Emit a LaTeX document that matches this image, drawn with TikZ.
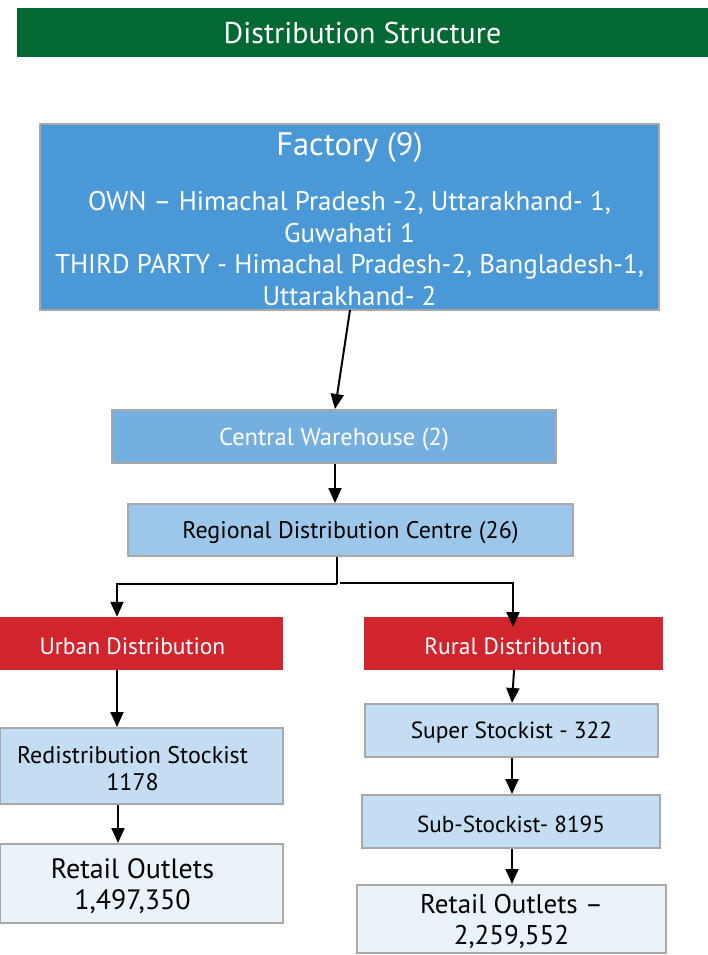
\documentclass[tikz,border=0pt]{standalone}
\usepackage{fontspec}
\setmainfont{PT Sans}
\usetikzlibrary{arrows.meta}
\definecolor{titlegreen}{HTML}{026935}
\definecolor{factblue}{HTML}{4A98D6}
\definecolor{cwblue}{HTML}{75AFE0}
\definecolor{rdcblue}{HTML}{9DC7EA}
\definecolor{stockblue}{HTML}{C5DDF2}
\definecolor{paleblue}{HTML}{EAF2FA}
\definecolor{urbred}{HTML}{D0252D}
\definecolor{bordergray}{HTML}{A8A8A8}
\tikzset{
  box/.style={draw=bordergray, line width=2pt, inner sep=0pt, align=center},
  lbl/.style={inner sep=0pt, align=center, yshift=-2.5pt},
  leftlbl/.style={lbl, xshift=-9pt},
  redbox/.style={fill=urbred, inner sep=0pt},
  redlbl/.style={lbl, text=white, font=\fontsize{23.5}{27}\selectfont},
  conn/.style={line width=2pt, -{Triangle[length=15pt,width=13pt]}},
  plain/.style={line width=2pt}
}
\begin{document}
\begin{tikzpicture}[x=1pt,y=-1pt]
\useasboundingbox (0,0) rectangle (708,955);
% title
\node[fill=titlegreen, minimum width=691pt, minimum height=49pt, inner sep=0pt] (title) at (362.5,32.5) {};
\node[lbl, yshift=1.5pt, text=white, font=\fontsize{30}{34}\selectfont] (titletext) at (title.center) {Distribution Structure};
% factory
\node[box, fill=factblue, minimum width=619pt, minimum height=186pt] (factory) at (349.5,217) {};
\node[lbl, text=white, font=\fontsize{32.5}{36}\selectfont] (facttitle) at (349.5,145) {Factory (9)};
\node[text=white, font=\fontsize{27}{31.5}\selectfont, align=center, inner sep=0pt] (facttext) at (349.5,248.5) {OWN -- Himachal Pradesh -2, Uttarakhand- 1,\\Guwahati 1\\THIRD PARTY - Himachal Pradesh-2, Bangladesh-1,\\Uttarakhand- 2};
% central warehouse
\node[box, fill=cwblue, minimum width=444pt, minimum height=53pt] (cw) at (334,436.5) {};
\node[lbl, text=white, font=\fontsize{24.5}{28}\selectfont] (cwtext) at (cw.center) {Central Warehouse (2)};
% regional dc
\node[box, fill=rdcblue, minimum width=445pt, minimum height=52pt] (rdc) at (350.5,530) {};
\node[lbl, font=\fontsize{24}{28}\selectfont] (rdctext) at (rdc.center) {Regional Distribution Centre (26)};
% urban / rural
\node[redbox, minimum width=283pt, minimum height=53pt] (urban) at (141.5,643.5) {};
\node[redlbl, xshift=-9pt] (urbantext) at (urban.center) {Urban Distribution};
\node[redbox, minimum width=299pt, minimum height=53pt] (rural) at (513.5,643.5) {};
\node[redlbl] (ruraltext) at (rural.center) {Rural Distribution};
% urban branch
\node[box, fill=stockblue, minimum width=283pt, minimum height=76pt] (redist) at (141.5,766) {};
\node[leftlbl, font=\fontsize{24}{27}\selectfont] (redisttext) at (redist.center) {Redistribution Stockist\\1178};
\node[box, fill=paleblue, minimum width=283pt, minimum height=79pt] (retailL) at (141.5,883.5) {};
\node[leftlbl, font=\fontsize{28}{31}\selectfont] (retailLtext) at (retailL.center) {Retail Outlets\\1,497,350};
% rural branch
\node[box, fill=stockblue, minimum width=293pt, minimum height=53pt] (super) at (511.5,730.5) {};
\node[lbl, font=\fontsize{23.4}{27}\selectfont] (supertext) at (super.center) {Super Stockist - 322};
\node[box, fill=stockblue, minimum width=298pt, minimum height=53pt] (sub) at (511,821.5) {};
\node[lbl, font=\fontsize{23.2}{27}\selectfont] (subtext) at (sub.center) {Sub-Stockist- 8195};
\node[box, fill=paleblue, minimum width=309pt, minimum height=68pt] (retailR) at (511.5,919) {};
\node[lbl, font=\fontsize{27}{31}\selectfont] (retailRtext) at (retailR.center) {Retail Outlets --\\2,259,552};
% connectors
\coordinate (fbot) at (350,310);
\coordinate (cwin) at (335,409);
\draw[conn] (fbot) -- (cwin);
\draw[conn] (cw.south -| 335,0) -- (rdc.north -| 335,0);
\coordinate (split) at (337,584);
\draw[plain] (rdc.south -| 337,0) -- (split);
\draw[conn] (split) -- (117,584) -- (urban.north -| 117,0);
\coordinate (splitR) at (340,583);
\coordinate (ruralin) at (513,627);
\draw[conn] (splitR) -- (513,583) -- (ruralin);
\draw[conn] (urban.south -| 117,0) -- (redist.north -| 117,0);
\draw[conn] (redist.south -| 118,0) -- (retailL.north -| 118,0);
\draw[conn] (rural.south -| 514,0) -- (super.north -| 512,0);
\draw[conn] (super.south -| 512,0) -- (sub.north -| 512,0);
\draw[conn] (sub.south -| 512,0) -- (retailR.north -| 512,0);
\end{tikzpicture}
\end{document}
